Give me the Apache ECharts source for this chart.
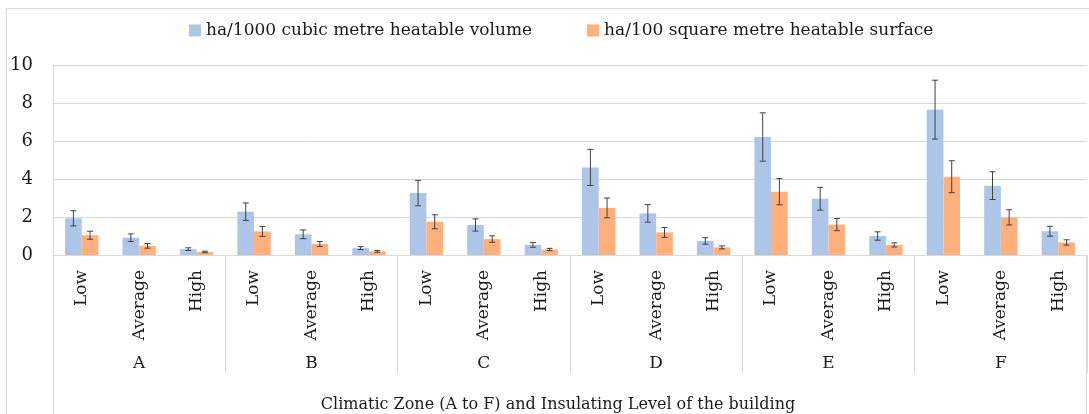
<!DOCTYPE html>
<html>
<head>
<meta charset="utf-8">
<script src="https://cdn.jsdelivr.net/npm/echarts@6/dist/echarts.min.js"></script>
<style>
  html, body { margin: 0; padding: 0; background: #fff; }
  #chart { width: 1089px; height: 414px; }
</style>
</head>
<body>
<div id="chart"></div>
<script>
// data
const zones = ["A", "B", "C", "D", "E", "F"];
const levels = ["Low", "Average", "High"];
const yTicks = [0, 2, 4, 6, 8, 10];

const volumeName = "ha/1000 cubic metre heatable volume";
const surfaceName = "ha/100 square metre heatable surface";

const volumeValues = [1.93, 0.91, 0.31, 2.28, 1.09, 0.36, 3.26, 1.58, 0.53, 4.61, 2.19, 0.74, 6.21, 2.96, 1.0, 7.65, 3.65, 1.25];
const volumeErr = [0.4, 0.2, 0.07, 0.46, 0.23, 0.08, 0.67, 0.32, 0.12, 0.95, 0.46, 0.17, 1.27, 0.6, 0.22, 1.55, 0.73, 0.26];
const surfaceValues = [1.04, 0.48, 0.16, 1.24, 0.58, 0.19, 1.75, 0.84, 0.29, 2.48, 1.19, 0.4, 3.33, 1.6, 0.53, 4.12, 1.98, 0.66];
const surfaceErr = [0.21, 0.12, 0.04, 0.26, 0.13, 0.05, 0.37, 0.17, 0.06, 0.52, 0.26, 0.08, 0.69, 0.32, 0.11, 0.84, 0.4, 0.14];

const FONT = "DejaVu Serif";
const GRID = "#d9d9d9";
const BAR_W = 0.29; // share of a category band per bar

// one category per zone/level pair
const categories = [];
zones.forEach(function () {
  levels.forEach(function (l) { categories.push(l); });
});

function errData(values, err) {
  return values.map(function (v, i) { return [i, v - err[i], v + err[i]]; });
}

function errSeries(name, values, err, side) {
  return {
    name: name + " err",
    type: "custom",
    xAxisIndex: 0,
    z: 5,
    silent: true,
    data: errData(values, err),
    renderItem: function (params, api) {
      const band = api.size([1, 0])[0];
      const top = api.coord([api.value(0), api.value(2)]);
      const bot = api.coord([api.value(0), api.value(1)]);
      const x = top[0] + side * band * BAR_W / 2;
      const cap = 3;
      const style = { stroke: "#404040", lineWidth: 1 };
      return {
        type: "group",
        children: [
          { type: "line", shape: { x1: x, y1: top[1], x2: x, y2: bot[1] }, style: style },
          { type: "line", shape: { x1: x - cap, y1: top[1], x2: x + cap, y2: top[1] }, style: style },
          { type: "line", shape: { x1: x - cap, y1: bot[1], x2: x + cap, y2: bot[1] }, style: style }
        ]
      };
    }
  };
}

const chart = echarts.init(document.getElementById("chart"));

chart.setOption({
  backgroundColor: "#fff",
  animation: false,
  textStyle: { fontFamily: FONT },
  title: {
    text: "Climatic Zone (A to F) and Insulating Level of the building",
    left: 553,
    top: 392,
    textAlign: "center",
    textStyle: { fontFamily: FONT, fontSize: 16, fontWeight: "normal", color: "#1a1a1a" }
  },
  legend: {
    data: [volumeName, surfaceName],
    top: 17,
    left: 184,
    icon: "rect",
    itemWidth: 12,
    itemHeight: 12,
    itemGap: 55,
    textStyle: { fontFamily: FONT, fontSize: 17, color: "#1a1a1a" }
  },
  grid: { left: 53, right: 2, top: 65, bottom: 159, containLabel: false },
  xAxis: [
    {
      type: "category",
      data: categories,
      axisLine: { show: true, lineStyle: { color: GRID } },
      axisTick: { show: false },
      axisLabel: {
        rotate: 90,
        margin: 15,
        interval: 0,
        fontFamily: FONT,
        fontSize: 17,
        color: "#1a1a1a"
      }
    },
    {
      type: "category",
      data: zones,
      position: "bottom",
      axisLine: { show: false },
      axisTick: { show: true, length: 118, lineStyle: { color: GRID } },
      axisLabel: { margin: 100, fontFamily: FONT, fontSize: 17, color: "#1a1a1a" }
    }
  ],
  yAxis: {
    type: "value",
    min: yTicks[0],
    max: yTicks[yTicks.length - 1],
    interval: 2,
    axisLine: { show: true, lineStyle: { color: GRID } },
    axisTick: { show: false },
    splitLine: { lineStyle: { color: GRID } },
    axisLabel: { margin: 20, fontFamily: FONT, fontSize: 18, color: "#1a1a1a" }
  },
  graphic: [
    { type: "rect", shape: { x: 6.5, y: 8.5, width: 1100, height: 420 }, style: { fill: "none", stroke: GRID }, silent: true },
    { type: "line", shape: { x1: 53.5, y1: 255, x2: 53.5, y2: 414 }, style: { stroke: GRID }, silent: true },
    { type: "line", shape: { x1: 1086.5, y1: 255, x2: 1086.5, y2: 414 }, style: { stroke: GRID }, silent: true }
  ],
  series: [
    {
      name: volumeName,
      type: "bar",
      xAxisIndex: 0,
      data: volumeValues,
      barWidth: BAR_W * 100 + "%",
      barGap: "0%",
      itemStyle: { color: "#adc5e7" }
    },
    {
      name: surfaceName,
      type: "bar",
      xAxisIndex: 0,
      data: surfaceValues,
      barWidth: BAR_W * 100 + "%",
      barGap: "0%",
      itemStyle: { color: "#ffb07c" }
    },
    errSeries(volumeName, volumeValues, volumeErr, -1),
    errSeries(surfaceName, surfaceValues, surfaceErr, 1)
  ]
});
</script>
</body>
</html>
